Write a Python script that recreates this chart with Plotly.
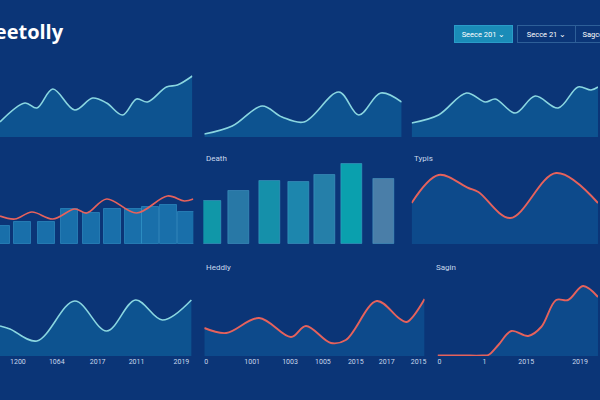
import plotly.graph_objects as go

W, H = 600, 400
BG = "#0b3577"
CYAN = "#8ad6e0"
RED = "#e6625c"
FILL = "rgba(16,108,165,0.55)"
FILL_RED = "rgba(16,100,165,0.45)"

# ---------------- data ----------------
# row 1
r1c1_t = [0, 25, 37, 53, 75, 93, 107, 123, 137, 148, 167, 178, 193]
r1c1_v = [15, 34, 29, 48, 27, 39, 34, 22, 38, 35, 50, 52, 61]
r1c2_t = [0, 28, 58, 78, 100, 135, 155, 177, 198]
r1c2_v = [3, 11, 31, 20, 15, 45, 22, 44, 35]
r1c3_t = [0, 27, 55, 74, 84, 104, 124, 147, 167, 180, 187]
r1c3_v = [14, 22, 44, 35, 38, 24, 41, 29, 50, 47, 50]
# row 2
r2c1_bar_t = [2, 23, 47, 70, 92, 113, 134, 151, 169, 187]
r2c1_bar_v = [18, 22, 22, 35, 31, 35, 35, 37, 39, 32]
r2c1_line_t = [0, 15, 32, 53, 75, 87, 107, 137, 168, 185, 194]
r2c1_line_v = [28, 25, 32, 25, 35, 31, 45, 31, 48, 43, 45]
death_t = [8, 36, 67, 96, 122, 149, 181]
death_v = [43, 53, 63, 62, 69, 80, 65]
death_colors = ["#1097a8", "#2878a6", "#1590aa", "#1d86ad", "#257fa9", "#0aa0ae", "#4a7ea8"]
typis_t = [0, 27, 57, 67, 99, 145, 187]
typis_v = [41, 69, 56, 52, 26, 71, 41]
# row 3
r3c1_t = [0, 10, 37, 75, 107, 136, 163, 192]
r3c1_v = [30, 27, 15, 55, 25, 56, 36, 56]
r3c1_tick_t = [18, 57, 98, 137, 182]
r3c1_tick_lbl = ["1200", "1064", "2017", "2011", "2019"]
heddly_t = [0, 22, 55, 87, 102, 127, 142, 173, 195, 203, 221]
heddly_v = [28, 23, 38, 19, 30, 13, 16, 55, 38, 34, 57]
heddly_tick_t = [2, 48, 86, 119, 152, 183, 215]
heddly_tick_lbl = ["0", "1001", "1003", "1005", "2015", "2017", "2015"]
sagin_t = [0, 25, 45, 51, 61, 74, 91, 104, 119, 131, 146, 161]
sagin_v = [0.5, 0.5, 0.5, 1, 11, 25, 20, 29, 56, 56, 70, 59]
sagin_tick_t = [2, 47, 89, 143]
sagin_tick_lbl = ["0", "1", "2015", "2019"]

# ------------- panel geometry (pixels) -------------
# (left, right, bottom, top)
geo = {
    1: (0, 193, 137, 60),
    2: (205, 403, 137, 60),
    3: (413, 600, 137, 60),
    4: (0, 194, 244, 150),
    5: (204, 397, 244, 150),
    6: (413, 600, 244, 150),
    7: (0, 193, 356, 262),
    8: (205, 426, 356, 262),
    9: (439, 600, 356, 262),
}

fig = go.Figure()
layout = dict(width=W, height=H, margin=dict(l=0, r=0, t=0, b=0),
              paper_bgcolor=BG, plot_bgcolor=BG, showlegend=False,
              bargap=0)


def ax_names(i):
    return ("x" if i == 1 else f"x{i}", "y" if i == 1 else f"y{i}",
            "xaxis" if i == 1 else f"xaxis{i}", "yaxis" if i == 1 else f"yaxis{i}")


for i, (l, r, b, t) in geo.items():
    xn, yn, xk, yk = ax_names(i)
    layout[xk] = dict(domain=[l / W, r / W], range=[0, r - l], anchor=yn,
                      showgrid=False, zeroline=False, showticklabels=False,
                      showline=False, ticks="", fixedrange=True)
    layout[yk] = dict(domain=[1 - b / H, 1 - t / H], range=[0, b - t], anchor=xn,
                      showgrid=False, zeroline=False, showticklabels=False,
                      showline=False, ticks="", fixedrange=True)


def area(i, t, v, color, fill, width=1.6):
    xn, yn, _, _ = ax_names(i)
    fig.add_trace(go.Scatter(x=t, y=v, xaxis=xn, yaxis=yn, mode="lines",
                             line=dict(color=color, width=width, shape="spline", smoothing=1.0),
                             fill="tozeroy", fillcolor=fill, hoverinfo="skip"))


area(1, r1c1_t, r1c1_v, CYAN, FILL)
area(2, r1c2_t, r1c2_v, CYAN, FILL)
area(3, r1c3_t, r1c3_v, CYAN, FILL)

fig.add_trace(go.Bar(x=r2c1_bar_t, y=r2c1_bar_v, xaxis="x4", yaxis="y4", width=17,
                     marker=dict(color="rgba(30,135,190,0.72)", line=dict(color="rgba(50,150,200,0.6)", width=1))))
fig.add_trace(go.Scatter(x=r2c1_line_t, y=r2c1_line_v, xaxis="x4", yaxis="y4", mode="lines",
                         line=dict(color=RED, width=1.7, shape="spline")))

fig.add_trace(go.Bar(x=death_t, y=death_v, xaxis="x5", yaxis="y5", width=21,
                     marker=dict(color=death_colors, line=dict(color="rgba(80,170,210,0.45)", width=1))))
area(6, typis_t, typis_v, RED, FILL_RED, 1.9)

area(7, r3c1_t, r3c1_v, CYAN, FILL)
area(8, heddly_t, heddly_v, RED, FILL_RED, 1.9)
area(9, sagin_t, sagin_v, RED, FILL_RED, 1.9)

tickfont = dict(family="Roboto", size=7, color="#c9d8ec")
for i, tv, tl in [(7, r3c1_tick_t, r3c1_tick_lbl), (8, heddly_tick_t, heddly_tick_lbl),
                  (9, sagin_tick_t, sagin_tick_lbl)]:
    _, _, xk, _ = ax_names(i)
    layout[xk].update(showticklabels=True, tickmode="array", tickvals=tv, ticktext=tl,
                      tickfont=tickfont, ticklen=0)

fig.update_layout(**layout)

ann = []
ann.append(dict(text="<b>eeetolly</b>", x=66 / W, y=1 - 32 / H, xref="paper", yref="paper",
                xanchor="right", yanchor="middle", showarrow=False,
                font=dict(family="Open Sans", size=20, color="white")))
for txt, x0, y0 in [("Death", 205, 158), ("Typis", 413, 158), ("Heddly", 205, 267), ("Sagin", 435, 267)]:
    ann.append(dict(text=txt, x=x0 / W, y=1 - y0 / H, xref="paper", yref="paper",
                    xanchor="left", yanchor="middle", showarrow=False,
                    font=dict(family="Roboto", size=8, color="#c9d8ec")))
for txt, x0, bg, bc in [("Seece 201 ⌄", 456, "#1a8cb8", "#2a9cc8"),
                        ("Secce 21 ⌄", 519, "rgba(0,0,0,0)", "#2e5f98"),
                        ("Sagce 201 ⌄", 577, "rgba(0,0,0,0)", "#2e5f98")]:
    ann.append(dict(text=txt, x=x0 / W, y=1 - 34 / H, xref="paper", yref="paper",
                    xanchor="left", yanchor="middle", showarrow=False, width=55, height=14,
                    align="center", bgcolor=bg, bordercolor=bc, borderwidth=1, borderpad=1,
                    font=dict(family="Roboto", size=7.5, color="white")))
fig.update_layout(annotations=ann)

fig.write_html("out.html")
